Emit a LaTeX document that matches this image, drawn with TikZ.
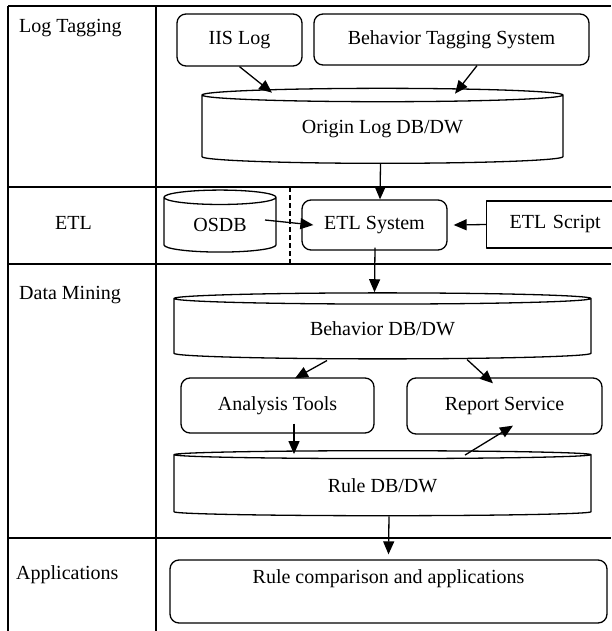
\documentclass[tikz,border=0pt]{standalone}
\usepackage{fontspec}
\setmainfont{Liberation Serif}
\usetikzlibrary{shapes.geometric,arrows.meta,calc}

\begin{document}
\begin{tikzpicture}[
    x=1pt,y=-1pt,
    font=\fontsize{20}{24}\selectfont,
    line join=round,
    frame/.style={draw=black,line width=1.3pt},
    box/.style={draw,rounded corners=9pt,line width=1.3pt,inner sep=0pt},
    plainbox/.style={draw,line width=1.3pt,inner sep=0pt},
    store/.style={draw,cylinder,shape border rotate=90,line width=1.3pt,inner sep=0pt},
    flow/.style={-{Triangle[length=13pt,width=11pt]},line width=1.3pt},
    rowlabel/.style={anchor=west,inner sep=0pt}
]

\useasboundingbox (0,0) rectangle (611,631);

% table frame
\draw[frame] (8,6)--(611,6);
\draw[frame] (8,6)--(8,631);
\draw[frame] (156,6)--(156,631);
\foreach \y in {187,264,538}
    \draw[frame] (8,\y)--(611,\y);
\draw[frame,dash pattern=on 5pt off 3pt] (290,187)--(290,264);

% row labels
\node[rowlabel] (taglabel) at (19,28) {Log Tagging};
\node[inner sep=0pt] (etllabel) at (73.5,223) {ETL};
\node[rowlabel] (dmlabel) at (19,295) {Data Mining};
\node[rowlabel] (applabel) at (16,575) {Applications};

% log tagging
\node[box,minimum width=125,minimum height=52] (iis) at (239.5,40) {IIS Log};
\node[box,minimum width=275,minimum height=51] (bts) at (451.5,39.5) {Behavior Tagging System};
\node[store,aspect=0.083,minimum width=361,minimum height=75] (origin) at (382.5,129.5) {Origin Log DB/DW};

% etl
\node[store,aspect=0.27,minimum width=112,minimum height=62] (osdb) at (220,225) {OSDB};
\node[box,minimum width=145,minimum height=50] (etlsys) at (374.5,225) {ETL System};
\node[plainbox,anchor=west,text width=130,inner xsep=23,align=left,minimum height=47] (script) at (486,224.5) {ETL Script};

% data mining
\node[store,aspect=0.077,minimum width=417,minimum height=66] (behavior) at (382.5,329) {Behavior DB/DW};
\node[box,minimum width=193,minimum height=55] (analysis) at (277.5,405.5) {Analysis Tools};
\node[box,minimum width=195,minimum height=56] (report) at (504.5,406) {Report Service};
\node[store,aspect=0.072,minimum width=417,minimum height=65] (rule) at (382.5,485.5) {Rule DB/DW};

% applications
\node[box,minimum width=437,text height=23pt,text depth=40pt] (apps) at (388.5,591.5) {Rule comparison and applications};

% flows
\draw[flow] (iis.south) -- ($(origin.north)+(-110.5,5)$);
\draw[flow] ($(bts.south)+(25.5,0)$) -- ($(origin.north)+(72.5,6)$);
\draw[flow] ($(origin.south)+(-2,0)$) -- ($(etlsys.north)+(5.5,0)$);
\draw[flow] ($(osdb.center)+(45,-5)$) -- ($(etlsys.west)+(12,0)$);
\draw[flow] (script.west) -- ($(etlsys.east)+(6,0)$);
\draw[flow] ($(etlsys.south)+(0.5,-3)$) -- (etlsys.south |- behavior.north);
\draw[flow] ($(behavior.south)+(-55.5,1)$) -- ($(analysis.north)+(17.5,1)$);
\draw[flow] ($(behavior.south)+(84.5,0)$) -- ($(report.north)+(-11.5,6)$);
\draw[flow] ($(analysis.south)+(16.5,-10)$) -- ($(rule.north)+(-88.5,4)$);
\draw[flow] ($(rule.north)+(82.5,5)$) -- ($(report.south)+(8.5,-9)$);
\draw[flow] ($(rule.south)+(6.5,0)$) -- ($(apps.north)+(0,-5)$);

\end{tikzpicture}
\end{document}
